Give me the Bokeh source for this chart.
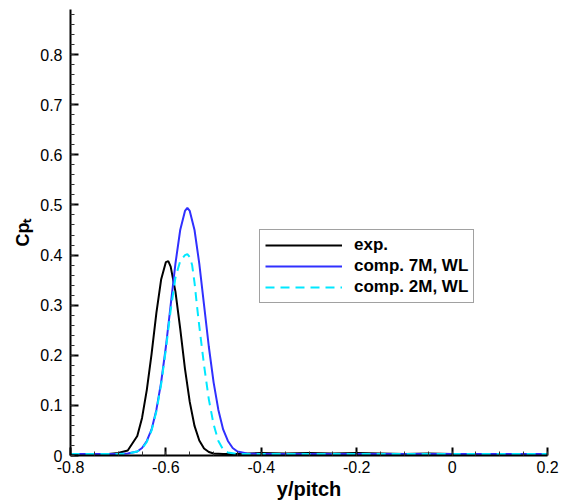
from bokeh.plotting import figure
from bokeh.models import Legend, LegendItem, FixedTicker, Range1d
from bokeh.embed import file_html
from bokeh.resources import INLINE

# --- data ---
exp_x = [-0.80, -0.75, -0.72, -0.70, -0.68, -0.66, -0.65, -0.64, -0.63, -0.62, -0.61, -0.60, -0.595,
         -0.59, -0.58, -0.57, -0.56, -0.55, -0.54, -0.53, -0.52, -0.51, -0.50, -0.48, -0.45, -0.40,
         -0.35, -0.30, -0.25, -0.20, -0.15, -0.10, -0.05, 0.0, 0.05, 0.10, 0.15, 0.20]
exp_y = [0.003, 0.003, 0.003, 0.005, 0.010, 0.039, 0.075, 0.131, 0.203, 0.284, 0.351, 0.386, 0.388,
         0.377, 0.327, 0.253, 0.173, 0.107, 0.059, 0.030, 0.014, 0.007, 0.004, 0.003, 0.003, 0.005,
         0.004, 0.005, 0.004, 0.005, 0.004, 0.003, 0.004, 0.003, 0.003, 0.003, 0.003, 0.003]

comp7_x = [-0.80, -0.75, -0.70, -0.68, -0.66, -0.65, -0.64, -0.63, -0.62, -0.61, -0.60, -0.59, -0.58,
           -0.57, -0.56, -0.555, -0.55, -0.54, -0.53, -0.52, -0.51, -0.50, -0.49, -0.48, -0.47, -0.46,
           -0.45, -0.43, -0.40, -0.30, -0.20, -0.10, 0.0, 0.10, 0.20]
comp7_y = [0.003, 0.003, 0.003, 0.004, 0.008, 0.015, 0.029, 0.052, 0.091, 0.146, 0.217, 0.300, 0.383,
           0.450, 0.488, 0.494, 0.488, 0.450, 0.383, 0.300, 0.217, 0.146, 0.091, 0.052, 0.029, 0.015,
           0.008, 0.004, 0.003, 0.003, 0.003, 0.003, 0.003, 0.003, 0.003]

comp2_x = [-0.80, -0.75, -0.70, -0.68, -0.66, -0.65, -0.64, -0.63, -0.62, -0.61, -0.60, -0.59, -0.58,
           -0.57, -0.56, -0.555, -0.55, -0.545, -0.54, -0.535, -0.53, -0.52, -0.51, -0.50, -0.49,
           -0.48, -0.47, -0.45, -0.40, -0.30, -0.20, -0.10, 0.0, 0.10, 0.20]
comp2_y = [0.003, 0.003, 0.003, 0.004, 0.008, 0.014, 0.027, 0.050, 0.088, 0.142, 0.212, 0.290, 0.355,
           0.388, 0.400, 0.402, 0.396, 0.380, 0.345, 0.300, 0.258, 0.180, 0.112, 0.062, 0.029,
           0.012, 0.006, 0.003, 0.003, 0.003, 0.003, 0.003, 0.003, 0.003, 0.003]

series_labels = ["exp.", "comp. 7M, WL", "comp. 2M, WL"]

x_major = [-0.8, -0.6, -0.4, -0.2, 0.0, 0.2]
x_major_labels = ["-0.8", "-0.6", "-0.4", "-0.2", "0", "0.2"]
x_minor = [-0.8 + 0.05 * i for i in range(21)]
y_major = [0.0, 0.1, 0.2, 0.3, 0.4, 0.5, 0.6, 0.7, 0.8]
y_major_labels = ["0", "0.1", "0.2", "0.3", "0.4", "0.5", "0.6", "0.7", "0.8"]
y_minor = [0.02 * i for i in range(45)]

FONT = "Liberation Sans"

p = figure(width=566, height=502, output_backend="svg", toolbar_location=None,
           x_range=Range1d(-0.8, 0.2), y_range=Range1d(0, 0.89),
           min_border_left=70, min_border_right=19, min_border_top=9, min_border_bottom=47)
p.outline_line_color = None
p.grid.visible = False
p.background_fill_color = "white"
p.border_fill_color = "white"

r_exp = p.line(exp_x, exp_y, line_color="black", line_width=2)
r_c7 = p.line(comp7_x, comp7_y, line_color="#3030ff", line_width=2)
r_c2 = p.line(comp2_x, comp2_y, line_color="#00e8ff", line_width=2, line_dash="9 6")

for ax in (p.xaxis[0], p.yaxis[0]):
    ax.axis_line_width = 2
    ax.axis_line_color = "black"
    ax.major_tick_in = 8
    ax.major_tick_out = 0
    ax.minor_tick_in = 4
    ax.minor_tick_out = 0
    ax.major_tick_line_width = 2
    ax.minor_tick_line_width = 1
    ax.major_tick_line_color = "black"
    ax.minor_tick_line_color = "#333333"
    ax.major_label_text_font = FONT
    ax.major_label_text_font_size = "16px"
    ax.major_label_text_color = "black"
    ax.axis_label_text_font = FONT
    ax.axis_label_text_font_style = "bold"
    ax.axis_label_text_color = "black"

p.xaxis[0].ticker = FixedTicker(ticks=x_major, minor_ticks=x_minor)
p.xaxis[0].major_label_overrides = {v: s for v, s in zip(x_major, x_major_labels)}
p.xaxis[0].major_label_standoff = 5
p.xaxis[0].axis_label = "y/pitch"
p.xaxis[0].axis_label_text_font_size = "20px"
p.xaxis[0].axis_label_standoff = 2

p.yaxis[0].ticker = FixedTicker(ticks=y_major, minor_ticks=y_minor)
p.yaxis[0].major_label_overrides = {v: s for v, s in zip(y_major, y_major_labels)}
p.yaxis[0].major_label_standoff = 8
p.yaxis[0].axis_label = "Cp\u209c"
p.yaxis[0].axis_label_text_font_size = "18px"
p.yaxis[0].axis_label_standoff = 4

legend = Legend(items=[LegendItem(label=series_labels[0], renderers=[r_exp]),
                       LegendItem(label=series_labels[1], renderers=[r_c7]),
                       LegendItem(label=series_labels[2], renderers=[r_c2])],
                location=(189, 152))
legend.label_text_font = FONT
legend.label_text_font_size = "17px"
legend.label_text_font_style = "bold"
legend.label_text_color = "black"
legend.glyph_width = 77
legend.glyph_height = 20
legend.label_standoff = 12
legend.label_width = 108
legend.label_height = 20
legend.padding = 5
legend.spacing = 1
legend.margin = 0
legend.border_line_color = "#444444"
legend.border_line_width = 1
legend.background_fill_color = "white"
legend.background_fill_alpha = 1
p.add_layout(legend)

open("out.html", "w").write(file_html(p, INLINE))
